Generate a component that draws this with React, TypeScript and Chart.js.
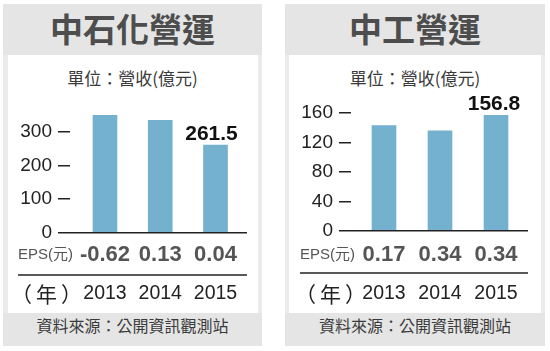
import React, { useEffect, useRef } from "react";
import { Chart, registerables } from "chart.js";

Chart.register(...registerables);

const years = ["2013", "2014", "2015"];

const leftTitle = "中石化營運";
const leftRevenue = [350, 335, 261.5];
const leftEps = ["-0.62", "0.13", "0.04"];
const leftYTicks = [0, 100, 200, 300];

const rightTitle = "中工營運";
const rightRevenue = [143, 136, 156.8];
const rightEps = ["0.17", "0.34", "0.34"];
const rightYTicks = [0, 40, 80, 120, 160];

const unitText = "單位：營收(億元)";
const epsRowLabel = "EPS(元)";
const yearRowLabel = "（年）";
const sourceText = "資料來源：公開資訊觀測站";
const labelledBar = 2;

const LATIN = '"Liberation Sans", Arial, sans-serif';
const CJK = '"Noto Sans CJK TC", "Noto Sans CJK SC", sans-serif';
const MIXED = '"Liberation Sans", "Noto Sans CJK TC", sans-serif';

interface Layout {
  left: number;
  top: number;
  width: number;
  height: number;
  yMax: number;
  xMin: number;
  xMax: number;
  padRight: number;
  epsH: number;
  epsPad: number;
  yearH: number;
  yearPad: number;
  epsLabelX: number;
  yearLabelX: number;
  lineX: number;
  labelDx: number;
}

const leftLayout: Layout = {
  left: 8, top: 92, width: 250, height: 220,
  yMax: 360, xMin: -0.633, xMax: 2.57, padRight: 11,
  epsH: 42.5, epsPad: 9.3, yearH: 37, yearPad: 7.3,
  epsLabelX: 10, yearLabelX: 3, lineX: 10, labelDx: -4,
};

const rightLayout: Layout = {
  left: 289, top: 92, width: 252, height: 220,
  yMax: 161.4, xMin: -0.589, xMax: 2.571, padRight: 13,
  epsH: 42, epsPad: 10.8, yearH: 39, yearPad: 9.3,
  epsLabelX: 11, yearLabelX: 6, lineX: 11, labelDx: -2,
};

const rowPlugin = {
  id: "rows",
  afterDraw(chart: any, _a: any, opts: any) {
    const { ctx, chartArea } = chart;
    const eps = chart.scales.eps;
    const xs = chart.scales.x;
    ctx.save();
    ctx.strokeStyle = "#222";
    ctx.lineWidth = 1.5;
    ctx.beginPath();
    ctx.moveTo(opts.lineX, eps.bottom);
    ctx.lineTo(chartArea.right, eps.bottom);
    ctx.stroke();

    ctx.textBaseline = "middle";
    ctx.textAlign = "left";
    ctx.fillStyle = "#555";
    ctx.font = `15px ${MIXED}`;
    ctx.fillText(epsRowLabel, opts.epsLabelX, eps.top + opts.epsPad + 13.2);
    ctx.fillStyle = "#222";
    ctx.font = `21px ${CJK}`;
    try {
      (ctx as any).letterSpacing = "4px";
    } catch (e) {}
    ctx.fillText(yearRowLabel, opts.yearLabelX, xs.top + opts.yearPad + 11.7);
    try {
      (ctx as any).letterSpacing = "0px";
    } catch (e) {}

    const meta = chart.getDatasetMeta(0);
    const el: any = meta.data[opts.index];
    const raw: any = chart.data.datasets[0].data[opts.index];
    if (el && raw) {
      ctx.font = `bold 21px ${LATIN}`;
      ctx.fillStyle = "#111";
      ctx.textAlign = "center";
      ctx.textBaseline = "alphabetic";
      ctx.fillText(Number(raw.y).toFixed(1), el.x + opts.labelDx, el.y - 5);
    }
    ctx.restore();
  },
};

function BarChart({ revenue, eps, yTicks, layout }: { revenue: number[]; eps: string[]; yTicks: number[]; layout: Layout }) {
  const ref = useRef<HTMLCanvasElement>(null);
  useEffect(() => {
    const idxTicks = years.map((_, i) => ({ value: i }));
    const chart = new Chart(ref.current as HTMLCanvasElement, {
      type: "bar",
      data: {
        datasets: [
          {
            data: revenue.map((v, i) => ({ x: i, y: v })),
            backgroundColor: "#74b1cf",
            barThickness: 24,
            xAxisID: "x",
            yAxisID: "y",
          } as any,
        ],
      },
      options: {
        animation: false,
        responsive: false,
        devicePixelRatio: 1,
        events: [],
        layout: { padding: { top: 20, right: layout.padRight, bottom: 0, left: 0 } },
        plugins: {
          legend: { display: false },
          tooltip: { enabled: false },
          rows: {
            lineX: layout.lineX,
            epsLabelX: layout.epsLabelX,
            yearLabelX: layout.yearLabelX,
            epsPad: layout.epsPad,
            yearPad: layout.yearPad,
            index: labelledBar,
            labelDx: layout.labelDx,
          },
        } as any,
        scales: {
          y: {
            type: "linear",
            min: 0,
            max: layout.yMax,
            afterBuildTicks: (s: any) => {
              s.ticks = yTicks.map((v) => ({ value: v }));
            },
            afterFit: (s: any) => {
              s.width = 62;
              s.paddingTop = 0;
              s.paddingBottom = 0;
            },
            border: { display: false },
            grid: {
              z: 1,
              color: (c: any) => (c.tick && c.tick.value === 0 ? "#222" : "rgba(0,0,0,0)"),
              lineWidth: 1.5,
              drawTicks: true,
              tickLength: 12,
              tickColor: "#222",
              tickWidth: 1.5,
            },
            ticks: {
              font: { family: LATIN, size: 19 },
              color: "#222",
              padding: 6,
            },
          },
          eps: {
            type: "linear",
            position: "bottom",
            weight: 1,
            offset: false,
            min: layout.xMin,
            max: layout.xMax,
            afterBuildTicks: (s: any) => {
              s.ticks = idxTicks.map((t) => ({ ...t }));
            },
            afterFit: (s: any) => {
              s.height = layout.epsH;
              s.paddingLeft = 0;
              s.paddingRight = 0;
            },
            border: { display: false },
            grid: { display: false, drawTicks: false, offset: false },
            ticks: {
              autoSkip: false,
              maxRotation: 0,
              callback: (v: any) => eps[v],
              font: { family: LATIN, size: 22, weight: "bold" },
              color: "#555",
              padding: layout.epsPad,
            },
          },
          x: {
            type: "linear",
            position: "bottom",
            weight: 2,
            offset: false,
            min: layout.xMin,
            max: layout.xMax,
            afterBuildTicks: (s: any) => {
              s.ticks = idxTicks.map((t) => ({ ...t }));
            },
            afterFit: (s: any) => {
              s.height = layout.yearH;
              s.paddingLeft = 0;
              s.paddingRight = 0;
            },
            border: { display: false },
            grid: { display: false, drawTicks: false, offset: false },
            ticks: {
              autoSkip: false,
              maxRotation: 0,
              callback: (v: any) => years[v],
              font: { family: LATIN, size: 19.5 },
              color: "#222",
              padding: layout.yearPad,
            },
          },
        } as any,
      },
      plugins: [rowPlugin as any],
    });
    return () => chart.destroy();
  }, []);
  return (
    <canvas
      ref={ref}
      width={layout.width}
      height={layout.height}
      style={{ position: "absolute", left: layout.left, top: layout.top, width: layout.width, height: layout.height }}
    />
  );
}

function Frame({ left, width, innerLeft, innerWidth, title }: { left: number; width: number; innerLeft: number; innerWidth: number; title: string }) {
  return (
    <div style={{ position: "absolute", left, top: 4, width, height: 342, background: "#ebebeb" }}>
      <div
        style={{
          position: "absolute", left: 0, top: 0, width, height: 51, background: "#e5e5e5",
          textAlign: "center", lineHeight: "51px", font: `bold 33px ${CJK}`, color: "#4d4d4d",
        }}
      >
        {title}
      </div>
      <div style={{ position: "absolute", left: innerLeft, top: 51, width: innerWidth, height: 258, background: "#fff" }} />
      <div
        style={{
          position: "absolute", left: 0, top: 61, width, height: 24, lineHeight: "24px",
          textAlign: "center", font: `17px ${CJK}`, color: "#3a3a3a",
        }}
      >
        {unitText}
      </div>
      <div
        style={{
          position: "absolute", left: 0, top: 309, width, height: 33, lineHeight: "34px",
          textAlign: "center", font: `16px ${CJK}`, color: "#3a3a3a", background: "#e5e5e5",
        }}
      >
        {sourceText}
      </div>
    </div>
  );
}

export default function App() {
  return (
    <div style={{ position: "absolute", left: 0, top: 0, width: 550, height: 351, background: "#fff", overflow: "hidden" }}>
      <Frame left={3} width={259} innerLeft={5} innerWidth={250} title={leftTitle} />
      <Frame left={285} width={260} innerLeft={4} innerWidth={252} title={rightTitle} />
      <BarChart revenue={leftRevenue} eps={leftEps} yTicks={leftYTicks} layout={leftLayout} />
      <BarChart revenue={rightRevenue} eps={rightEps} yTicks={rightYTicks} layout={rightLayout} />
    </div>
  );
}
